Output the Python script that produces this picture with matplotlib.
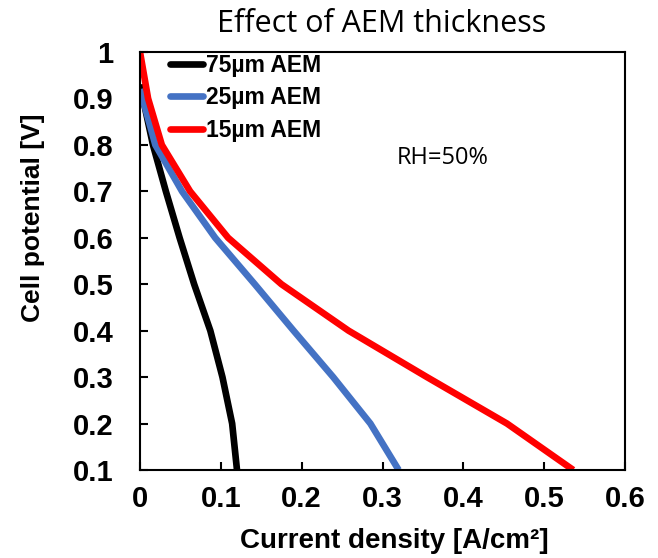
import matplotlib
matplotlib.use("Agg")
import matplotlib.pyplot as plt
from matplotlib.ticker import FixedLocator, FixedFormatter

# ---- data ----
black_j = [0.000, 0.016, 0.032, 0.049, 0.067, 0.087, 0.102, 0.114, 0.120]
black_v = [0.93, 0.8, 0.7, 0.6, 0.5, 0.4, 0.3, 0.2, 0.1]
blue_j = [0.000, 0.019, 0.052, 0.093, 0.142, 0.190, 0.239, 0.285, 0.320]
blue_v = [0.92, 0.8, 0.7, 0.6, 0.5, 0.4, 0.3, 0.2, 0.1]
red_j = [0.000, 0.010, 0.027, 0.062, 0.109, 0.175, 0.258, 0.355, 0.454, 0.536]
red_v = [1.0, 0.9, 0.8, 0.7, 0.6, 0.5, 0.4, 0.3, 0.2, 0.1]
series_labels = ["75µm AEM", "25µm AEM", "15µm AEM"]
series_colors = ["#000000", "#4472C4", "#FF0000"]

x_ticks = [0, 0.1, 0.2, 0.3, 0.4, 0.5, 0.6]
x_tick_labels = ["0", "0.1", "0.2", "0.3", "0.4", "0.5", "0.6"]
y_ticks = [0.1, 0.2, 0.3, 0.4, 0.5, 0.6, 0.7, 0.8, 0.9, 1.0]
y_tick_labels = ["0.1", "0.2", "0.3", "0.4", "0.5", "0.6", "0.7", "0.8", "0.9", "1"]

title = "Effect of AEM thickness"
xlabel = "Current density [A/cm²]"
ylabel = "Cell potential [V]"
note = "RH=50%"

W, H = 658, 558
fig = plt.figure(figsize=(W / 100, H / 100), dpi=100)
L, R, T, B = 140, 625, 52, 470
ax = fig.add_axes([L / W, 1 - B / H, (R - L) / W, (B - T) / H])

bold = dict(family="Liberation Sans", weight="bold")
lw = 4.8
for j, v, lab, c in zip([black_j, blue_j, red_j], [black_v, blue_v, red_v],
                        series_labels, series_colors):
    ax.plot(j, v, color=c, lw=lw, label=lab, solid_joinstyle="round",
            solid_capstyle="butt")

ax.set_xlim(0, 0.6)
ax.set_ylim(0.1, 1.0)
ax.xaxis.set_major_locator(FixedLocator(x_ticks))
ax.xaxis.set_major_formatter(FixedFormatter(x_tick_labels))
ax.yaxis.set_major_locator(FixedLocator(y_ticks))
ax.yaxis.set_major_formatter(FixedFormatter(y_tick_labels))
ax.tick_params(direction="in", length=6, width=1.5, labelsize=21)
ax.tick_params(axis="x", pad=11)
ax.tick_params(axis="y", pad=19)
for lbl in ax.get_xticklabels() + ax.get_yticklabels():
    lbl.set_fontfamily("Liberation Sans")
    lbl.set_fontweight("bold")
for s in ax.spines.values():
    s.set_linewidth(1.5)

fig.text(33 / W, 1 - 218 / H, ylabel, rotation=90, ha="center", va="center",
         fontsize=19, **bold)
fig.text(394 / W, 1 - 541 / H, xlabel, ha="center", va="center",
         fontsize=20, **bold)
fig.text(382 / W, 1 - 24 / H, title, ha="center", va="center",
         fontsize=22, family="Open Sans")
ax.text(0.374, 0.771, note, ha="center", va="center", fontsize=17,
        family="Open Sans")

leg = ax.legend(loc="upper left", bbox_to_anchor=(0.062, 0.996), frameon=False,
                borderpad=0, borderaxespad=0, handlelength=1.45,
                handletextpad=0.1, labelspacing=0.42,
                prop=dict(family="Liberation Sans", weight="bold", size=16.5))
for h in leg.get_lines():
    h.set_solid_capstyle("round")
    h.set_linewidth(lw)

fig.savefig("out.png", dpi=100)
